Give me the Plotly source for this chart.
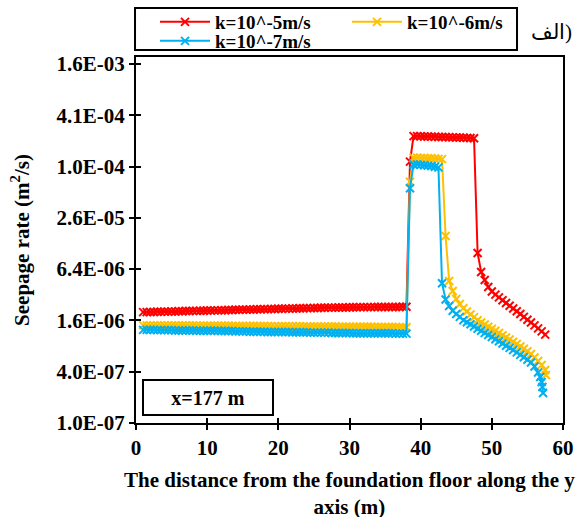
import plotly.graph_objects as go

# ---------------- data ----------------
X_GRID = [1.0, 1.5, 2.0, 2.5, 3.0, 3.5, 4.0, 4.5, 5.0, 5.5,
          6.0, 6.5, 7.0, 7.5, 8.0, 8.5, 9.0, 9.5, 10.0, 10.5,
          11.0, 11.5, 12.0, 12.5, 13.0, 13.5, 14.0, 14.5, 15.0, 15.5,
          16.0, 16.5, 17.0, 17.5, 18.0, 18.5, 19.0, 19.5, 20.0, 20.5,
          21.0, 21.5, 22.0, 22.5, 23.0, 23.5, 24.0, 24.5, 25.0, 25.5,
          26.0, 26.5, 27.0, 27.5, 28.0, 28.5, 29.0, 29.5, 30.0, 30.5,
          31.0, 31.5, 32.0, 32.5, 33.0, 33.5, 34.0, 34.5, 35.0, 35.5,
          36.0, 36.5, 37.0, 37.5, 38.0, 38.5, 39.0, 39.5, 40.0, 40.5,
          41.0, 41.5, 42.0, 42.5, 43.0, 43.5, 44.0, 44.5, 45.0, 45.5,
          46.0, 46.5, 47.0, 47.5, 48.0, 48.5, 49.0, 49.5, 50.0, 50.5,
          51.0, 51.5, 52.0, 52.5, 53.0, 53.5, 54.0, 54.5, 55.0, 55.5,
          56.0, 56.5, 57.0, 57.5]

RED_X = X_GRID
RED_Y = [2.00e-6, 2.00e-6, 2.01e-6, 2.01e-6, 2.02e-6, 2.02e-6, 2.03e-6, 2.03e-6, 2.04e-6, 2.04e-6,
         2.05e-6, 2.05e-6, 2.06e-6, 2.06e-6, 2.07e-6, 2.07e-6, 2.08e-6, 2.08e-6, 2.09e-6, 2.09e-6,
         2.10e-6, 2.10e-6, 2.11e-6, 2.11e-6, 2.12e-6, 2.12e-6, 2.13e-6, 2.13e-6, 2.14e-6, 2.14e-6,
         2.15e-6, 2.15e-6, 2.16e-6, 2.16e-6, 2.17e-6, 2.17e-6, 2.18e-6, 2.18e-6, 2.19e-6, 2.19e-6,
         2.20e-6, 2.20e-6, 2.21e-6, 2.21e-6, 2.22e-6, 2.22e-6, 2.23e-6, 2.23e-6, 2.24e-6, 2.24e-6,
         2.25e-6, 2.25e-6, 2.26e-6, 2.26e-6, 2.26e-6, 2.27e-6, 2.27e-6, 2.27e-6, 2.28e-6, 2.28e-6,
         2.28e-6, 2.29e-6, 2.29e-6, 2.29e-6, 2.29e-6, 2.30e-6, 2.30e-6, 2.30e-6, 2.30e-6, 2.30e-6,
         2.30e-6, 2.30e-6, 2.30e-6, 2.31e-6, 2.31e-6,
         1.17e-4,
         2.33e-4, 2.33e-4, 2.32e-4, 2.31e-4, 2.31e-4, 2.30e-4, 2.29e-4, 2.28e-4, 2.28e-4,
         2.27e-4, 2.26e-4, 2.25e-4, 2.24e-4, 2.24e-4, 2.23e-4, 2.22e-4, 2.21e-4, 2.20e-4,
         9.9e-6,
         5.92e-6, 4.77e-6, 3.95e-6, 3.50e-6, 3.21e-6, 2.98e-6, 2.76e-6, 2.56e-6, 2.38e-6, 2.21e-6,
         2.05e-6, 1.90e-6, 1.76e-6, 1.63e-6, 1.51e-6, 1.40e-6, 1.29e-6, 1.19e-6, 1.09e-6]

ORANGE_X = X_GRID + [57.6]
ORANGE_Y = [1.40e-6, 1.40e-6, 1.40e-6, 1.40e-6, 1.40e-6, 1.40e-6, 1.40e-6, 1.40e-6, 1.40e-6, 1.40e-6,
            1.40e-6, 1.40e-6, 1.40e-6, 1.40e-6, 1.40e-6, 1.39e-6, 1.39e-6, 1.39e-6, 1.39e-6, 1.39e-6,
            1.39e-6, 1.39e-6, 1.39e-6, 1.39e-6, 1.39e-6, 1.38e-6, 1.38e-6, 1.38e-6, 1.38e-6, 1.38e-6,
            1.38e-6, 1.38e-6, 1.38e-6, 1.38e-6, 1.38e-6, 1.37e-6, 1.37e-6, 1.37e-6, 1.37e-6, 1.37e-6,
            1.37e-6, 1.37e-6, 1.37e-6, 1.37e-6, 1.37e-6, 1.36e-6, 1.36e-6, 1.36e-6, 1.36e-6, 1.36e-6,
            1.36e-6, 1.36e-6, 1.36e-6, 1.36e-6, 1.36e-6, 1.35e-6, 1.35e-6, 1.35e-6, 1.35e-6, 1.35e-6,
            1.35e-6, 1.35e-6, 1.35e-6, 1.35e-6, 1.35e-6, 1.34e-6, 1.34e-6, 1.34e-6, 1.34e-6, 1.34e-6,
            1.34e-6, 1.34e-6, 1.33e-6, 1.33e-6, 1.33e-6,
            6.8e-5,
            1.30e-4, 1.30e-4, 1.29e-4, 1.29e-4, 1.28e-4, 1.28e-4, 1.27e-4, 1.26e-4, 1.25e-4,
            1.57e-5,
            4.65e-6, 3.55e-6, 2.86e-6, 2.49e-6, 2.22e-6, 2.04e-6, 1.88e-6, 1.75e-6, 1.61e-6, 1.51e-6,
            1.43e-6, 1.35e-6, 1.28e-6, 1.21e-6, 1.14e-6, 1.07e-6, 1.01e-6,
            9.55e-7, 9.00e-7, 8.46e-7, 7.92e-7, 7.43e-7, 6.94e-7, 6.45e-7, 5.88e-7, 5.35e-7, 4.80e-7, 4.19e-7,
            3.66e-7]

BLUE_X = X_GRID[:112] + [56.8, 57.0, 57.1, 57.2]
BLUE_Y = [1.24e-6, 1.24e-6, 1.24e-6, 1.24e-6, 1.23e-6, 1.23e-6, 1.23e-6, 1.23e-6, 1.23e-6, 1.22e-6,
          1.22e-6, 1.22e-6, 1.22e-6, 1.22e-6, 1.22e-6, 1.21e-6, 1.21e-6, 1.21e-6, 1.21e-6, 1.21e-6,
          1.21e-6, 1.21e-6, 1.20e-6, 1.20e-6, 1.20e-6, 1.20e-6, 1.19e-6, 1.19e-6, 1.19e-6, 1.19e-6,
          1.18e-6, 1.18e-6, 1.18e-6, 1.18e-6, 1.18e-6, 1.17e-6, 1.17e-6, 1.17e-6, 1.17e-6, 1.17e-6,
          1.17e-6, 1.17e-6, 1.16e-6, 1.16e-6, 1.16e-6, 1.16e-6, 1.16e-6, 1.15e-6, 1.15e-6, 1.15e-6,
          1.15e-6, 1.15e-6, 1.15e-6, 1.14e-6, 1.14e-6, 1.14e-6, 1.14e-6, 1.14e-6, 1.14e-6, 1.13e-6,
          1.13e-6, 1.13e-6, 1.13e-6, 1.13e-6, 1.13e-6, 1.13e-6, 1.13e-6, 1.13e-6, 1.13e-6, 1.13e-6,
          1.13e-6, 1.12e-6, 1.12e-6, 1.12e-6, 1.12e-6,
          5.7e-5,
          1.08e-4, 1.08e-4, 1.07e-4, 1.06e-4, 1.05e-4, 1.04e-4, 1.02e-4, 1.00e-4,
          4.37e-6,
          2.82e-6, 2.36e-6, 2.08e-6, 1.90e-6, 1.76e-6, 1.61e-6, 1.52e-6, 1.44e-6, 1.36e-6, 1.28e-6,
          1.21e-6, 1.14e-6, 1.08e-6, 1.02e-6,
          9.62e-7, 9.10e-7, 8.58e-7, 8.08e-7, 7.62e-7, 7.19e-7, 6.74e-7, 6.31e-7, 5.92e-7, 5.53e-7,
          5.13e-7, 4.61e-7, 3.92e-7,
          3.47e-7, 3.03e-7, 2.64e-7, 2.25e-7]

SERIES_NAMES = ["k=10^-5m/s", "k=10^-6m/s", "k=10^-7m/s"]
SERIES_COLORS = ["#FF0000", "#FFC000", "#00B0F0"]
SERIES_LEGEND = ["legend", "legend", "legend2"]

Y_TICK_VALS = [1e-7, 4e-7, 1.6e-6, 6.4e-6, 2.56e-5, 1.024e-4, 4.096e-4, 1.6384e-3]
Y_TICK_TEXT = ["1.0E-07", "4.0E-07", "1.6E-06", "6.4E-06", "2.6E-05", "1.0E-04", "4.1E-04", "1.6E-03"]
X_TICK_VALS = [0, 10, 20, 30, 40, 50, 60]

X_TITLE = "The distance from the foundation floor along the y<br>axis (m)"
Y_TITLE = "Seepage rate (m<sup>2</sup>/s)"

FONT = "Liberation Serif, Times New Roman, serif"

# ---------------- figure ----------------
fig = go.Figure()
for xs, ys, name, col, lg in zip([RED_X, ORANGE_X, BLUE_X], [RED_Y, ORANGE_Y, BLUE_Y],
                                 SERIES_NAMES, SERIES_COLORS, SERIES_LEGEND):
    fig.add_trace(go.Scatter(
        x=xs, y=ys, name=name, mode="lines+markers", legend=lg,
        line=dict(color=col, width=2),
        marker=dict(symbol="x-thin", size=8, color=col, line=dict(color=col, width=2)),
    ))

# helper trace for overlay axes (inside half of crossing ticks)
fig.add_trace(go.Scatter(x=[None], y=[None], xaxis="x2", yaxis="y2",
                         showlegend=False, hoverinfo="skip"))

legend_common = dict(
    orientation="h", xanchor="left", yanchor="middle",
    borderwidth=0, bgcolor="rgba(0,0,0,0)",
    font=dict(family=FONT, size=19, color="black", weight="bold"),
    entrywidth=127, entrywidthmode="pixels", itemwidth=50,
)

y_range = [-7, -2.704]
fig.update_layout(
    width=587, height=517,
    margin=dict(l=136, r=24, t=57, b=94, autoexpand=False),
    paper_bgcolor="white", plot_bgcolor="white",
    font=dict(family=FONT, size=21, color="black", weight="bold"),
    showlegend=True,
    legend=dict(x=0.0445, y=1.0956, **legend_common),
    legend2=dict(x=0.0445, y=1.0437, **legend_common),
    shapes=[
        dict(type="rect", xref="paper", yref="paper", x0=-0.0023, x1=0.8923,
             y0=1.0191, y1=1.1339, line=dict(color="black", width=2), fillcolor="rgba(0,0,0,0)"),
    ],
    xaxis=dict(
        range=[0, 60], tickvals=X_TICK_VALS, ticks="outside", ticklen=5, tickwidth=2,
        tickcolor="black", showline=True, linecolor="black", linewidth=2, mirror=True,
        showgrid=False, zeroline=False, automargin=False,
    ),
    yaxis=dict(
        type="log", range=y_range, tickvals=Y_TICK_VALS, ticktext=Y_TICK_TEXT,
        ticks="outside", ticklen=5, tickwidth=2, tickcolor="black",
        showline=True, linecolor="black", linewidth=2, mirror=True,
        showgrid=False, zeroline=False, automargin=False,
        title=dict(text=Y_TITLE, standoff=21, font=dict(size=21)),
    ),
    xaxis2=dict(
        overlaying="x", range=[0, 60], tickvals=X_TICK_VALS, ticks="inside", ticklen=5,
        tickwidth=2, tickcolor="black", showticklabels=False, showline=False,
        showgrid=False, zeroline=False, side="bottom", anchor="y2",
    ),
    yaxis2=dict(
        overlaying="y", type="log", range=y_range, tickvals=Y_TICK_VALS, ticks="inside",
        ticklen=5, tickwidth=2, tickcolor="black", showticklabels=False, showline=False,
        showgrid=False, zeroline=False, side="left", anchor="x2",
    ),
    annotations=[
        dict(text=X_TITLE, xref="paper", yref="paper", x=0.5, y=-0.1913,
             xanchor="center", yanchor="middle", showarrow=False, font=dict(size=21)),
        dict(text="x=177 m", xref="paper", yref="paper", x=0.1686, y=0.0697,
             xanchor="center", yanchor="middle",
             showarrow=False, bordercolor="black", borderwidth=2, borderpad=0,
             width=128, height=33, bgcolor="white", font=dict(size=20)),
        dict(text="\u200eالف)", xref="paper", yref="paper", x=0.972, y=1.068,
             xanchor="center", yanchor="middle",
             showarrow=False, font=dict(size=21, weight="normal")),
    ],
)

fig.write_html("out.html")
